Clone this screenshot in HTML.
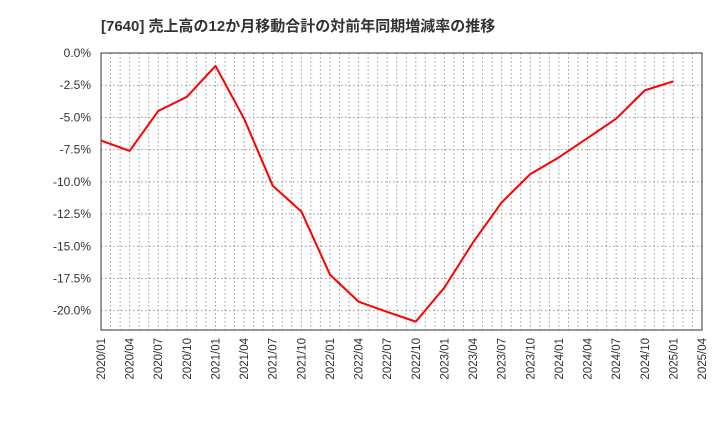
<!DOCTYPE html>
<html><head><meta charset="utf-8"><style>
body{margin:0;background:#fff;width:720px;height:440px;overflow:hidden;font-family:"Liberation Sans","Noto Sans CJK JP",sans-serif}
</style></head><body>
<svg id="c" width="720" height="440" xmlns="http://www.w3.org/2000/svg">
<text x="101" y="31" font-size="15" font-weight="bold" fill="#333" font-family="Liberation Sans,Noto Sans CJK JP,sans-serif">[7640]  売上高の12か月移動合計の対前年同期増減率の推移</text>
</svg>
<script>
const xLabels=["2020/01","2020/04","2020/07","2020/10","2021/01","2021/04","2021/07","2021/10","2022/01","2022/04","2022/07","2022/10","2023/01","2023/04","2023/07","2023/10","2024/01","2024/04","2024/07","2024/10","2025/01","2025/04"];
const values=[-6.8,-7.6,-4.5,-3.4,-1.0,-5.1,-10.3,-12.3,-17.2,-19.3,-20.1,-20.85,-18.2,-14.7,-11.6,-9.4,-8.1,-6.6,-5.1,-2.9,-2.2];
const yTicks=[0,-2.5,-5,-7.5,-10,-12.5,-15,-17.5,-20];
const L=101,R=702,T=53,B=330,yMin=-21.5,yMax=0,nMonths=63;
const svg=document.getElementById('c');const NS='http://www.w3.org/2000/svg';
const xm=m=>L+(R-L)*m/nMonths;
const y=v=>T+(yMax-v)/(yMax-yMin)*(B-T);
function mk(t,a){const e=document.createElementNS(NS,t);for(const k in a)e.setAttribute(k,a[k]);svg.appendChild(e);return e;}
for(let m=1;m<nMonths;m++){const l=mk('line',{x1:xm(m),x2:xm(m),y1:T,y2:B,stroke:'#999','stroke-dasharray':'1.5,2.5','stroke-width':1});

}
yTicks.forEach(v=>{if(v!==0){const l=mk('line',{x1:L,x2:R,y1:y(v),y2:y(v),stroke:'#999','stroke-dasharray':'1.5,2.5'});

}
const t=mk('text',{x:L-10,y:y(v)+4,'text-anchor':'end','font-size':12,fill:'#333'});t.textContent=v.toFixed(1)+'%';

});
xLabels.forEach((s,i)=>{const x=xm(i*3);const t=mk('text',{x:x+4,y:338,'text-anchor':'end','font-size':11.5,fill:'#333',transform:`rotate(-90 ${x+4} 338)`});t.textContent=s;

});
const fr=mk('rect',{x:L,y:T,width:R-L,height:B-T,fill:'none',stroke:'#333','stroke-width':1});


const p=mk('polyline',{points:values.map((v,i)=>xm(i*3)+','+y(v)).join(' '),fill:'none',stroke:'#f00','stroke-width':2,'stroke-linejoin':'round'});


</script>
</body></html>
